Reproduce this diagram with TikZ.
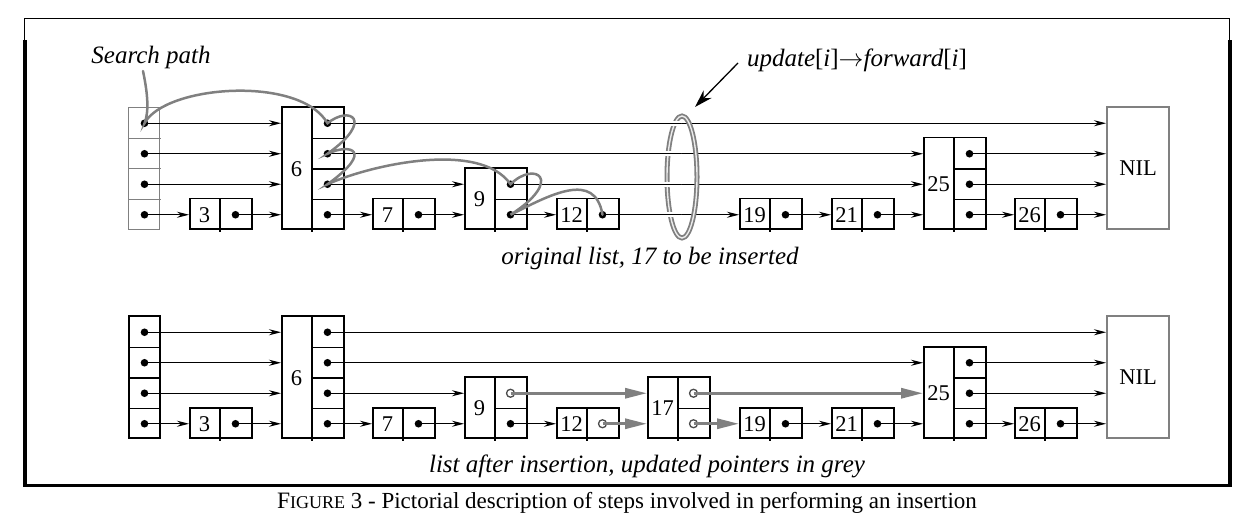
\documentclass[tikz,border=0pt]{standalone}
\usepackage{fontspec}
\setmainfont{Liberation Serif}
\usetikzlibrary{arrows.meta,shapes.geometric,calc}
\tikzset{
  boxline/.style={line width=1.3pt, black},
  keybox/.style={draw, line width=1.9pt, inner sep=0pt, minimum width=62pt},
  keytext/.style={font=\fontsize{22.5}{26}\selectfont, inner sep=0pt},
  lbl/.style={font=\fontsize{25}{30}\selectfont\itshape, inner sep=0pt},
  ptr/.style={line width=1.1pt, -{Stealth[length=12pt,width=6pt]}},
  gptr/.style={line width=3pt, draw=gray, -{Triangle[length=22pt,width=10pt]}},
  gpath/.style={line width=2.5pt, draw=gray, line cap=round},
  hdrtop/.style={draw=gray, line width=1pt},
  hdrbot/.style={draw=black, line width=1.9pt},
  opendot/.style={fill=white, draw=black!70, line width=1.3pt},
  nilbox/.style={draw=gray, line width=2.2pt, inner sep=0pt, minimum width=62pt, minimum height=122pt, font=\fontsize{22.5}{26}\selectfont},
}
\newcommand\snode[5]{%
  \pgfmathsetmacro\snh{30.5*#4}%
  \node[keybox, minimum height=\snh pt, anchor=south west] (#1) at (#2,#3) {};%
  \draw[boxline] (#2+31,#3-\snh) -- (#2+31,#3+2);%
  \node[keytext] at (#2+15.5,#3-\snh/2) {#5};%
  \foreach \k in {1,...,#4}{%
    \coordinate (#1-\k) at (#2+46.5,#3+15.25-30.5*\k);%
    \fill (#1-\k) circle (3.8pt);}%
  \ifnum#4>1
    \foreach \k in {2,...,#4}{\draw[boxline] (#2+31,#3+30.5-30.5*\k) -- (#2+64,#3+30.5-30.5*\k);}%
  \fi}
\newcommand\hnode[3]{%
  \node[#3, minimum width=31pt, minimum height=122pt, anchor=south west, inner sep=0pt] (#1) at (128,#2) {};%
  \foreach \k in {1,...,4}{%
    \coordinate (#1-\k) at (144.5,#2+15.25-30.5*\k);%
    \fill (#1-\k) circle (3.8pt);}%
  \foreach \k in {2,3,4}{\draw[#3] (128,#2+30.5-30.5*\k) -- (161,#2+30.5-30.5*\k);}}
\begin{document}
\begin{tikzpicture}[x=1pt,y=-1pt]
\useasboundingbox (0,0) rectangle (1245,521);
% frame
\draw[line width=1pt] (24,40) -- (24,19) -- (1229,19) -- (1229,40);
\draw[line width=3.3pt] (25,40) -- (25,485.5) -- (1230,485.5) -- (1230,40);

% ---------- top list ----------
\hnode{th}{230}{hdrtop}
\snode{t3}{189}{230}{1}{3}
\snode{t6}{281}{230}{4}{6}
\snode{t7}{372}{230}{1}{7}
\snode{t9}{464}{230}{2}{9}
\snode{t12}{556}{230}{1}{12}
\snode{t19}{739}{230}{1}{19}
\snode{t21}{831}{230}{1}{21}
\snode{t25}{923}{230}{3}{25}
\snode{t26}{1014}{230}{1}{26}
\node[nilbox, anchor=south west] (tnil) at (1106,230) {NIL};

\draw[ptr] (th-4) -- (t6.west |- th-4);
\draw[ptr] (th-3) -- (t6.west |- th-3);
\draw[ptr] (th-2) -- (t6.west |- th-2);
\draw[ptr] (th-1) -- (t3.west |- th-1);
\draw[ptr] (t3-1) -- (t6.west |- t3-1);
\draw[ptr] (t6-4) -- (tnil.west |- t6-4);
\draw[ptr] (t6-3) -- (t25.west |- t6-3);
\draw[ptr] (t6-2) -- (t9.west |- t6-2);
\draw[ptr] (t6-1) -- (t7.west |- t6-1);
\draw[ptr] (t7-1) -- (t9.west |- t7-1);
\draw[ptr] (t9-2) -- (t25.west |- t9-2);
\draw[ptr] (t9-1) -- (t12.west |- t9-1);
\draw[ptr] (t12-1) -- (t19.west |- t12-1);
\draw[ptr] (t19-1) -- (t21.west |- t19-1);
\draw[ptr] (t21-1) -- (t25.west |- t21-1);
\draw[ptr] (t25-3) -- (tnil.west |- t25-3);
\draw[ptr] (t25-2) -- (tnil.west |- t25-2);
\draw[ptr] (t25-1) -- (t26.west |- t25-1);
\draw[ptr] (t26-1) -- (tnil.west |- t26-1);

% ring
\node[ellipse, draw=gray, line width=5pt, minimum width=30pt, minimum height=122pt, inner sep=0pt] (ring) at (682,177) {};
\node[ellipse, draw=gray!15, line width=1.4pt, minimum width=30pt, minimum height=122pt, inner sep=0pt] (ringin) at (682,177) {};
\begin{scope}
  \clip (645,100) rectangle (681,245);
  \foreach \a/\b in {t6-4/tnil, t6-3/t25, t9-2/t25, t12-1/t19}{
    \draw[line width=1.1pt, preaction={draw=white, line width=5pt}] (\a) -- (\b.west |- \a);}
\end{scope}
\coordinate (ringtip) at (695,107);
\coordinate (updtail) at (738,63);
\draw[line width=1.3pt, -{Stealth[length=18pt,width=11pt]}] (updtail) -- (ringtip);
\node[lbl, font=\fontsize{25}{30}\selectfont] (upd) at (857,60) {\textit{update}[\textit{i}]$\rightarrow$\textit{forward}[\textit{i}]};

% search path
\node[lbl] (sp) at (151,57) {Search path};
\coordinate (spstart) at (143,71);
\draw[gpath] (spstart) .. controls (148,95) and (149,112) .. (th-4)
  .. controls (165,85) and (300,75) .. (t6-4)
  .. controls (350,105) and (375,120) .. (t6-3)
  .. controls (350,143) and (375,150) .. (t6-2)
  .. controls (370,165) and (480,140) .. (t9-2)
  .. controls (535,160) and (565,180) .. (t9-1)
  .. controls (550,195) and (595,170) .. (t12-1);

\node[lbl] (cap1) at (650,258) {original list, 17 to be inserted};

% ---------- bottom list ----------
\hnode{bh}{439}{hdrbot}
\snode{b3}{189}{439}{1}{3}
\snode{b6}{281}{439}{4}{6}
\snode{b7}{372}{439}{1}{7}
\snode{b9}{464}{439}{2}{9}
\snode{b12}{556}{439}{1}{12}
\snode{b17}{647}{439}{2}{17}
\snode{b19}{739}{439}{1}{19}
\snode{b21}{831}{439}{1}{21}
\snode{b25}{923}{439}{3}{25}
\snode{b26}{1014}{439}{1}{26}
\node[nilbox, anchor=south west] (bnil) at (1106,439) {NIL};

\draw[ptr] (bh-4) -- (b6.west |- bh-4);
\draw[ptr] (bh-3) -- (b6.west |- bh-3);
\draw[ptr] (bh-2) -- (b6.west |- bh-2);
\draw[ptr] (bh-1) -- (b3.west |- bh-1);
\draw[ptr] (b3-1) -- (b6.west |- b3-1);
\draw[ptr] (b6-4) -- (bnil.west |- b6-4);
\draw[ptr] (b6-3) -- (b25.west |- b6-3);
\draw[ptr] (b6-2) -- (b9.west |- b6-2);
\draw[ptr] (b6-1) -- (b7.west |- b6-1);
\draw[ptr] (b7-1) -- (b9.west |- b7-1);
\draw[ptr] (b9-1) -- (b12.west |- b9-1);
\draw[ptr] (b19-1) -- (b21.west |- b19-1);
\draw[ptr] (b21-1) -- (b25.west |- b21-1);
\draw[ptr] (b25-3) -- (bnil.west |- b25-3);
\draw[ptr] (b25-2) -- (bnil.west |- b25-2);
\draw[ptr] (b25-1) -- (b26.west |- b25-1);
\draw[ptr] (b26-1) -- (bnil.west |- b26-1);
\foreach \d in {b9-2, b12-1, b17-2, b17-1}{\filldraw[opendot] (\d) circle (4pt);}
\draw[gptr] (b9-2) -- (b17.west |- b9-2);
\draw[gptr] (b12-1) -- (b17.west |- b12-1);
\draw[gptr] (b17-2) -- (b25.west |- b17-2);
\draw[gptr] (b17-1) -- (b19.west |- b17-1);

\node[lbl] (cap2) at (647,466) {list after insertion, updated pointers in grey};

\node[inner sep=0pt, font=\fontsize{23}{27}\selectfont] (fig) at (627,503)
  {{\fontsize{23.5}{27}\selectfont F}{\fontsize{18}{21}\selectfont IGURE} 3 - Pictorial description of steps involved in performing an insertion};
\end{tikzpicture}
\end{document}
